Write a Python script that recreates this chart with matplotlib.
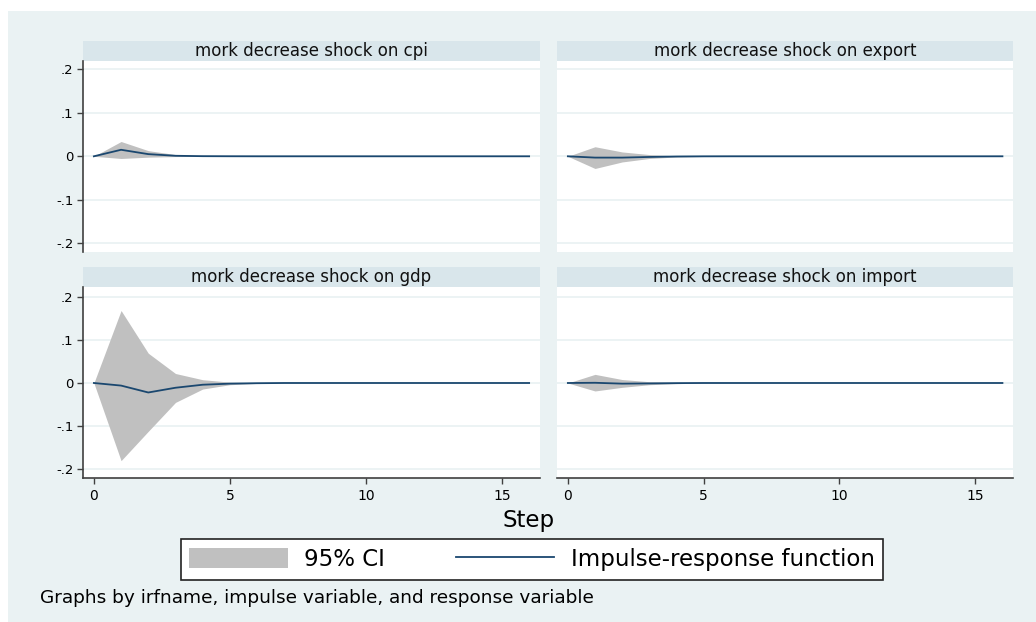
import numpy as np
import matplotlib.pyplot as plt
from matplotlib.patches import Rectangle

W, H = 1036, 622

steps = np.arange(17)

# impulse-response values and 95% CI bounds
cpi_irf = [0, 0.015, 0.005, 0.0012, 0.0003, 0.0001, 0, 0, 0, 0, 0, 0, 0, 0, 0, 0, 0]
cpi_lo = [0, -0.005, -0.002, -0.0006, -0.0002, 0, 0, 0, 0, 0, 0, 0, 0, 0, 0, 0, 0]
cpi_hi = [0, 0.034, 0.013, 0.004, 0.001, 0.0003, 0, 0, 0, 0, 0, 0, 0, 0, 0, 0, 0]

export_irf = [0, -0.003, -0.003, -0.0015, -0.0005, -0.0001, 0, 0, 0, 0, 0, 0, 0, 0, 0, 0, 0]
export_lo = [0, -0.028, -0.013, -0.005, -0.0015, -0.0004, 0, 0, 0, 0, 0, 0, 0, 0, 0, 0, 0]
export_hi = [0, 0.022, 0.010, 0.004, 0.001, 0.0003, 0, 0, 0, 0, 0, 0, 0, 0, 0, 0, 0]

gdp_irf = [0, -0.006, -0.022, -0.011, -0.004, -0.0015, -0.0005, 0, 0, 0, 0, 0, 0, 0, 0, 0, 0]
gdp_lo = [0, -0.180, -0.112, -0.045, -0.014, -0.004, -0.001, -0.0003, 0, 0, 0, 0, 0, 0, 0, 0, 0]
gdp_hi = [0, 0.168, 0.069, 0.022, 0.0076, 0.002, 0.0005, 0.0001, 0, 0, 0, 0, 0, 0, 0, 0, 0]

import_irf = [0, 0.0005, -0.0015, -0.001, -0.0003, 0, 0, 0, 0, 0, 0, 0, 0, 0, 0, 0, 0]
import_lo = [0, -0.0185, -0.010, -0.004, -0.0015, -0.0004, 0, 0, 0, 0, 0, 0, 0, 0, 0, 0, 0]
import_hi = [0, 0.020, 0.008, 0.003, 0.001, 0.0003, 0, 0, 0, 0, 0, 0, 0, 0, 0, 0, 0]

titles = ["mork decrease shock on cpi", "mork decrease shock on export",
          "mork decrease shock on gdp", "mork decrease shock on import"]
yticks = [-0.2, -0.1, 0, 0.1, 0.2]
ytick_labels = ["-.2", "-.1", "0", ".1", ".2"]
xticks = [0, 5, 10, 15]

panels = [
    (cpi_irf, cpi_lo, cpi_hi),
    (export_irf, export_lo, export_hi),
    (gdp_irf, gdp_lo, gdp_hi),
    (import_irf, import_lo, import_hi),
]

bg = "#EAF2F3"
strip_c = "#D9E6EB"
navy = "#1A476F"
ci_c = "#C0C0C0"
axc = "#404040"


def box(x0, y0, x1, y1):
    return [x0 / W, 1 - y1 / H, (x1 - x0) / W, (y1 - y0) / H]


fig = plt.figure(figsize=(W / 100, H / 100), dpi=100)
fig.patch.set_facecolor("white")
fig.patches.append(Rectangle((8 / W, 0), 1, 1 - 11 / H, transform=fig.transFigure,
                             facecolor=bg, edgecolor="none", zorder=-10))

cols = [(83, 540), (557, 1013.3)]
rows = [(41, 61, 252.3, (-0.2207, 0.2191)), (267, 286.7, 478, (-0.2202, 0.2232))]

for i, (irf, lo, hi) in enumerate(panels):
    r, c = divmod(i, 2)
    x0, x1 = cols[c]
    s0, p0, p1, ylim = rows[r]

    # strip header
    sax = fig.add_axes(box(x0, s0, x1, p0))
    sax.set_facecolor(strip_c)
    sax.set_xticks([])
    sax.set_yticks([])
    for sp in sax.spines.values():
        sp.set_visible(False)
    sax.text(0.5, 0.5, titles[i], ha="center", va="center", fontsize=12,
             color="#111111", transform=sax.transAxes)

    ax = fig.add_axes(box(x0, p0, x1, p1))
    ax.set_facecolor("white")
    ax.fill_between(steps, lo, hi, color=ci_c, linewidth=0, zorder=2)
    ax.plot(steps, irf, color=navy, lw=1.3, zorder=3)
    ax.set_xlim(-0.4, 16.4)
    ax.set_ylim(*ylim)
    ax.set_yticks(yticks)
    ax.set_xticks(xticks)
    ax.grid(axis="y", color=bg, lw=1.3, zorder=0)
    ax.set_axisbelow(True)
    for sp in ["top", "right"]:
        ax.spines[sp].set_visible(False)
    ax.spines["left"].set_visible(c == 0)
    ax.spines["bottom"].set_visible(r == 1)
    for sp in ["left", "bottom"]:
        ax.spines[sp].set_color(axc)
        ax.spines[sp].set_linewidth(1.2)
    ax.tick_params(axis="y", left=(c == 0), labelleft=(c == 0), direction="out",
                   length=4.5, width=1, color=axc, labelsize=9.5, pad=2.5)
    ax.tick_params(axis="x", bottom=(r == 1), labelbottom=(r == 1), direction="out",
                   length=4, width=1, color=axc, labelsize=10, pad=4)
    ax.set_yticklabels(ytick_labels)

fig.text(529 / W, 1 - 520 / H, "Step", ha="center", va="center", fontsize=16.5)

handles = [Rectangle((0, 0), 1, 1, facecolor=ci_c, edgecolor="none"),
           plt.Line2D([0], [0], color=navy, lw=1.3)]
leg = fig.legend(handles, ["95% CI", "Impulse-response function"], ncol=2,
                 loc="center", bbox_to_anchor=(532 / W, 1 - 559.5 / H),
                 fontsize=16.5, handlelength=4.3, handleheight=0.96,
                 handletextpad=0.7, columnspacing=3.1, borderpad=0.38,
                 fancybox=False, framealpha=1, edgecolor="#222222")
leg.get_frame().set_linewidth(1.2)

fig.text(40 / W, 1 - 598 / H, "Graphs by irfname, impulse variable, and response variable",
         ha="left", va="center", fontsize=13.3)

fig.savefig("out.png", dpi=100)
